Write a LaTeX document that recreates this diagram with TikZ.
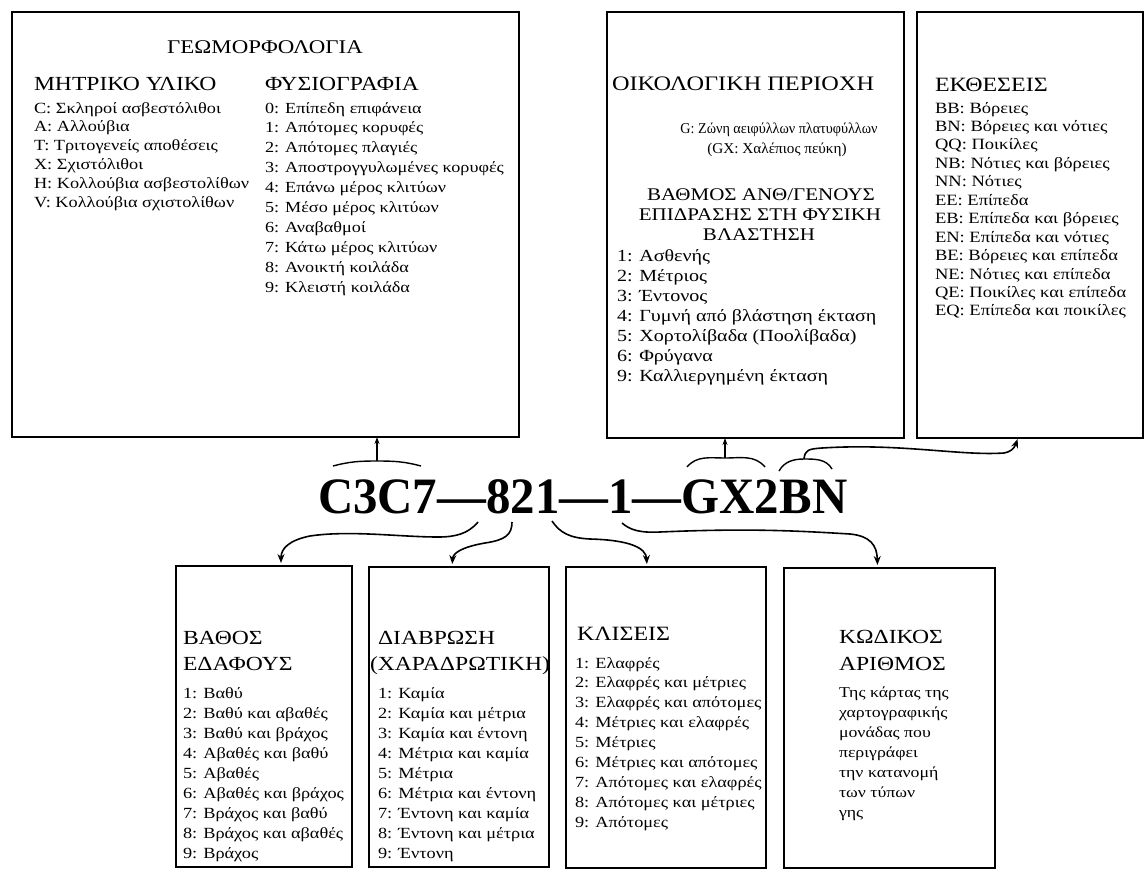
\documentclass[tikz,border=0pt]{standalone}
\usepackage{fontspec}
\setmainfont{Liberation Serif}[FakeStretch=1.18]
\newfontfamily\codefont{Liberation Serif}
\usetikzlibrary{arrows.meta}

\begin{document}
\begin{tikzpicture}[x=1pt,y=-1pt]
        \tikzstyle{every node}=[inner sep=0pt, outer sep=0pt]
        \tikzstyle{box}=[draw, line width=1.8pt, anchor=north west]
        \tikzstyle{head}=[font=\fontsize{20}{24}\selectfont, anchor=base west]
        \tikzstyle{item}=[font=\fontsize{15.5}{19}\selectfont, anchor=base west]
        \tikzstyle{brace}=[line width=1.4pt]
        \tikzstyle{link}=[line width=1.6pt, -{Stealth[length=9pt,width=7pt]}, shorten >=3pt]
        \useasboundingbox (0,0) rectangle (1145,876);
        % upper boxes
        \node[box, minimum width=507pt, minimum height=425pt] (geo) at (12,12) {};
        \node[box, minimum width=297pt, minimum height=426pt] (eco) at (607,12) {};
        \node[box, minimum width=226pt, minimum height=426pt] (expo) at (917,12) {};
        \node[head, anchor=base, font=\fontsize{19.4}{24}\selectfont] (geot) at (265,53) {ΓΕΩΜΟΡΦΟΛΟΓΙΑ};
        \node[head] (matt) at (34,90) {ΜΗΤΡΙΚΟ ΥΛΙΚΟ};
        \node[head] (phyt) at (265,90) {ΦΥΣΙΟΓΡΑΦΙΑ};
        \foreach \t [count=\i from 0] in {C: Σκληροί ασβεστόλιθοι, A: Αλλούβια, T: Τριτογενείς αποθέσεις,
            X: Σχιστόλιθοι, H: Κολλούβια ασβεστολίθων, V: Κολλούβια σχιστολίθων}
            \node[item] (mat\i) at (34,{113+18.8*\i}) {\t};
        \foreach \t [count=\i from 0] in {0: Επίπεδη επιφάνεια, 1: Απότομες κορυφές, 2: Απότομες πλαγιές,
            3: Αποστρογγυλωμένες κορυφές, 4: Επάνω μέρος κλιτύων, 5: Μέσο μέρος κλιτύων, 6: Αναβαθμοί,
            7: Κάτω μέρος κλιτύων, 8: Ανοικτή κοιλάδα, 9: Κλειστή κοιλάδα}
            \node[item, font=\fontsize{15.4}{19}\selectfont] (phy\i) at (265,{113+19.9*\i}) {\t};
        \node[head, font=\fontsize{20.6}{24}\selectfont] (ecot) at (612,90) {ΟΙΚΟΛΟΓΙΚΗ ΠΕΡΙΟΧΗ};
        \node[item, anchor=base, font=\fontsize{15}{18}\selectfont] (zone1) at (779,133)
            {\scalebox{0.8}[1]{G: Ζώνη αειφύλλων πλατυφύλλων}};
        \node[item, anchor=base, font=\fontsize{15}{18}\selectfont] (zone2) at (777,153)
            {\scalebox{0.86}[1]{(GX: Χαλέπιος πεύκη)}};
        \node[head, anchor=base, font=\fontsize{17.8}{20}\selectfont] (hum1) at (761,200) {ΒΑΘΜΟΣ ΑΝΘ/ΓΕΝΟΥΣ};
        \node[head, anchor=base, font=\fontsize{17.8}{20}\selectfont] (hum2) at (760,220) {ΕΠΙΔΡΑΣΗΣ ΣΤΗ ΦΥΣΙΚΗ};
        \node[head, anchor=base, font=\fontsize{17.8}{20}\selectfont] (hum3) at (759,240) {ΒΛΑΣΤΗΣΗ};
        \foreach \t [count=\i from 0] in {1: Ασθενής, 2: Μέτριος, 3: Έντονος, 4: Γυμνή από βλάστηση έκταση,
            5: Χορτολίβαδα (Ποολίβαδα), 6: Φρύγανα, 9: Καλλιεργημένη έκταση}
            \node[item, font=\fontsize{17}{20}\selectfont] (hum\i) at (617,{261+20*\i}) {\t};
        \node[head, font=\fontsize{20.3}{24}\selectfont] (expot) at (935,91) {ΕΚΘΕΣΕΙΣ};
        \foreach \t [count=\i from 0] in {BB: Βόρειες, BN: Βόρειες και νότιες, QQ: Ποικίλες,
            NB: Νότιες και βόρειες, NN: Νότιες, EE: Επίπεδα, EB: Επίπεδα και βόρειες, EN: Επίπεδα και νότιες,
            BE: Βόρειες και επίπεδα, NE: Νότιες και επίπεδα, QE: Ποικίλες και επίπεδα, EQ: Επίπεδα και ποικίλες}
            \node[item, font=\fontsize{15.7}{19}\selectfont] (exp\i) at (935,{113+18.45*\i}) {\t};
        % lower boxes
        \node[box, minimum width=176pt, minimum height=301pt] (depth) at (176,566) {};
        \node[box, minimum width=180pt, minimum height=300pt] (eros) at (369,567) {};
        \node[box, minimum width=200pt, minimum height=301pt] (slope) at (566,567) {};
        \node[box, minimum width=211pt, minimum height=300pt] (num) at (784,568) {};
        \node[head] (deptht1) at (183,644) {ΒΑΘΟΣ};
        \node[head] (deptht2) at (183,670) {ΕΔΑΦΟΥΣ};
        \foreach \t [count=\i from 0] in {1: Βαθύ, 2: Βαθύ και αβαθές, 3: Βαθύ και βράχος, 4: Αβαθές και βαθύ,
            5: Αβαθές, 6: Αβαθές και βράχος, 7: Βράχος και βαθύ, 8: Βράχος και αβαθές, 9: Βράχος}
            \node[item] (dep\i) at (183,{698+20*\i}) {\t};
        \node[head] (erost1) at (378,644) {ΔΙΑΒΡΩΣΗ};
        \node[head] (erost2) at (370,670) {(ΧΑΡΑΔΡΩΤΙΚΗ)};
        \foreach \t [count=\i from 0] in {1: Καμία, 2: Καμία και μέτρια, 3: Καμία και έντονη, 4: Μέτρια και καμία,
            5: Μέτρια, 6: Μέτρια και έντονη, 7: Έντονη και καμία, 8: Έντονη και μέτρια, 9: Έντονη}
            \node[item] (ero\i) at (378,{698+20*\i}) {\t};
        \node[head, font=\fontsize{20.3}{24}\selectfont] (slopet) at (577,640) {ΚΛΙΣΕΙΣ};
        \foreach \t [count=\i from 0] in {1: Ελαφρές, 2: Ελαφρές και μέτριες, 3: Ελαφρές και απότομες,
            4: Μέτριες και ελαφρές, 5: Μέτριες, 6: Μέτριες και απότομες, 7: Απότομες και ελαφρές,
            8: Απότομες και μέτριες, 9: Απότομες}
            \node[item] (slo\i) at (575,{668+19.9*\i}) {\t};
        \node[head] (numt1) at (839,643) {ΚΩΔΙΚΟΣ};
        \node[head] (numt2) at (839,670) {ΑΡΙΘΜΟΣ};
        \foreach \t [count=\i from 0] in {Της κάρτας της, χαρτογραφικής, μονάδας που, περιγράφει,
            την κατανομή, των τύπων, γης}
            \node[item, font=\fontsize{15.1}{19}\selectfont] (txt\i) at (839,{697+20*\i}) {\t};
        % the code
        \node[anchor=base west, font=\codefont\fontsize{51}{51}\selectfont\bfseries] (code) at (318,513)
            {\scalebox{0.958}[1]{C3C7—821—1—GX2BN}};
        \coordinate (c1) at (377,461);
        \coordinate (c2) at (725,458);
        \coordinate (c3) at (804,459);
        \coordinate (s8) at (478,522);
        \coordinate (s2) at (512,522);
        \coordinate (s1) at (552,521);
        \coordinate (t1) at (622,523);
        \draw[brace] (333,466) to[out=15,in=180] (c1) to[out=0,in=165] (421,466);
        \draw[brace] (687,467) to[out=50,in=180] (c2) to[out=0,in=130] (765,467);
        \draw[brace] (779,471) to[out=60,in=180] (c3) to[out=0,in=120] (832,469);
        \draw[link, -{Stealth[length=7pt,width=5pt]}, shorten >=0pt] (c1) -- (c1 |- geo.south);
        \draw[link, -{Stealth[length=7pt,width=5pt]}, shorten >=0pt] (c2) -- (c2 |- eco.south);
        \draw[link, shorten >=1pt] (c3) .. controls (805,450) and (808,449) .. (822,448)
            .. controls (900,443) and (960,456) .. (1004,453)
            .. controls (1010,452) and (1014,449) .. ([xshift=-12pt]expo.south);
        \draw[link] (s8) .. controls (468,534) and (455,537) .. (438,537)
            .. controls (400,537) and (350,530) .. (310,536)
            .. controls (290,540) and (281,548) .. ([xshift=17pt]depth.north);
        \draw[link] (s2) .. controls (512,535) and (505,540) .. (485,543)
            .. controls (462,547) and (453,553) .. ([xshift=-7pt]eros.north);
        \draw[link] (s1) .. controls (560,533) and (570,538) .. (590,539)
            .. controls (630,540) and (646,548) .. ([xshift=-19pt]slope.north);
        \draw[link] (t1) .. controls (630,530) and (640,533) .. (660,532)
            .. controls (750,528) and (800,531) .. (850,534)
            .. controls (870,536) and (877,545) .. ([xshift=-12pt]num.north);
\end{tikzpicture}
\end{document}
